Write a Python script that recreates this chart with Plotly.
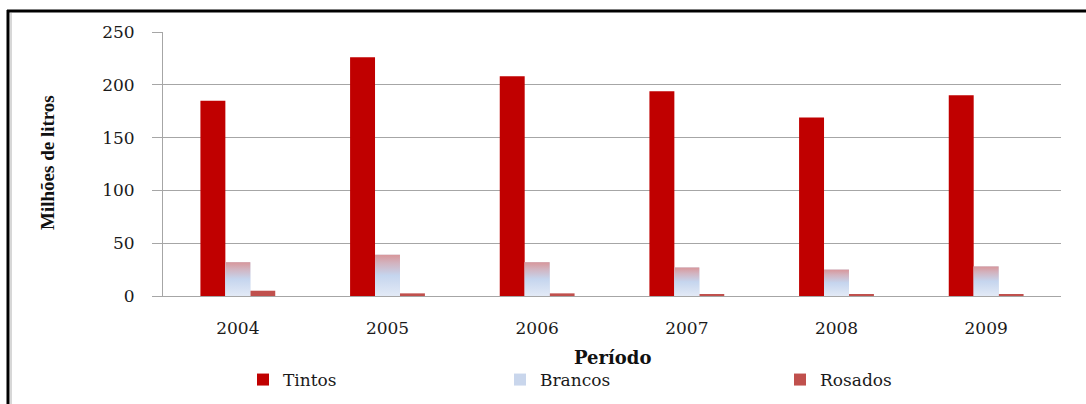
import plotly.graph_objects as go

# Wine volumes by type, 2004-2009 (millions of litres)
anos = ["2004", "2005", "2006", "2007", "2008", "2009"]
tintos = [185, 226, 208, 194, 169, 190]
brancos = [32, 39, 32, 27, 25, 28]
rosados = [5, 2.5, 2.5, 1.6, 1, 1.8]

y_ticks = [0, 50, 100, 150, 200, 250]

W, H = 1086, 404
ML, MR, MT, MB = 163, 25, 32, 108
PW, PH = W - ML - MR, H - MT - MB

def px_x(px):
    return (px - ML) / PW

def px_y(py):
    return (H - MB - py) / PH

pos = list(range(len(anos)))
serif = "DejaVu Serif"
grid = "#a6a6a6"

fig = go.Figure()
fig.add_trace(go.Bar(x=pos, y=tintos, name="Tintos",
                     marker=dict(color="#C00000", line=dict(width=0)),
                     legend="legend"))
fig.add_trace(go.Bar(x=pos, y=brancos, name="Brancos",
                     marker=dict(color="#c9d6ec", line=dict(width=0)),
                     legend="legend2"))
fig.add_trace(go.Bar(x=pos, y=rosados, name="Rosados",
                     marker=dict(color="#C0504D", line=dict(width=0)),
                     legend="legend3"))

# Vertical gradient fill laid over each white-wine bar
bar_w = (1 - 0.5) / 3
for i, v in zip(pos, brancos):
    x0, x1 = i - bar_w / 2, i + bar_w / 2
    fig.add_trace(go.Scatter(
        x=[x0, x1, x1, x0, x0], y=[0, 0, v, v, 0],
        mode="none", fill="toself", showlegend=False, hoverinfo="skip",
        fillgradient=dict(type="vertical", start=0, stop=v,
                          colorscale=[[0, "#e3eaf6"], [0.5, "#c5d5ee"],
                                      [0.8, "#d2b3bf"], [1, "#d8969a"]]),
    ))

fig.update_layout(
    width=W, height=H,
    margin=dict(l=ML, r=MR, t=MT, b=MB, autoexpand=False),
    paper_bgcolor="white", plot_bgcolor="white",
    barmode="group", bargap=0.5, bargroupgap=0,
    font=dict(family=serif, size=16, color="#1a1a1a"),
    xaxis=dict(range=[-0.5, len(anos) - 0.5], tickmode="array",
               tickvals=pos, ticktext=anos, showgrid=False, zeroline=False,
               showline=True, linecolor=grid, linewidth=1, ticks="",
               ticklabelstandoff=17, tickfont=dict(family=serif, size=17)),
    yaxis=dict(range=[0, 250], tickmode="array", tickvals=y_ticks,
               showgrid=True, gridcolor=grid, gridwidth=1, zeroline=False,
               showline=True, linecolor=grid, linewidth=1,
               ticks="outside", ticklen=10, tickcolor=grid,
               ticklabelstandoff=14, tickfont=dict(family=serif, size=17)),
    showlegend=True,
)

leg_y = (H - 380) / H
leg_common = dict(orientation="h", yref="container", yanchor="middle",
                  y=leg_y, xanchor="left", bgcolor="rgba(0,0,0,0)",
                  itemwidth=30,
                  font=dict(family=serif, size=17, color="#1a1a1a"))
fig.update_layout(
    legend=dict(x=px_x(243), **leg_common),
    legend2=dict(x=px_x(500), **leg_common),
    legend3=dict(x=px_x(780), **leg_common),
)

fig.add_annotation(text="<b>Milhões de litros</b>", textangle=-90,
                   xref="paper", yref="paper", x=px_x(47), y=px_y(162),
                   xanchor="center", yanchor="middle", showarrow=False,
                   font=dict(family="Liberation Serif", size=19, color="#111"))
fig.add_annotation(text="<b>Período</b>",
                   xref="paper", yref="paper", x=px_x(612), y=px_y(357),
                   xanchor="center", yanchor="middle", showarrow=False,
                   font=dict(family=serif, size=18, color="#111"))

# Chart frame (top and left edges)
fig.add_shape(type="line", xref="paper", yref="paper",
              x0=px_x(7), x1=px_x(W + 5), y0=px_y(11), y1=px_y(11),
              line=dict(color="black", width=3))
fig.add_shape(type="line", xref="paper", yref="paper",
              x0=px_x(8), x1=px_x(8), y0=px_y(10), y1=px_y(H + 5),
              line=dict(color="black", width=3))
fig.add_shape(type="line", xref="paper", yref="paper",
              x0=px_x(11), x1=px_x(11), y0=px_y(13), y1=px_y(H + 5),
              line=dict(color="#b0b0b0", width=1))

fig.write_html("out.html")
